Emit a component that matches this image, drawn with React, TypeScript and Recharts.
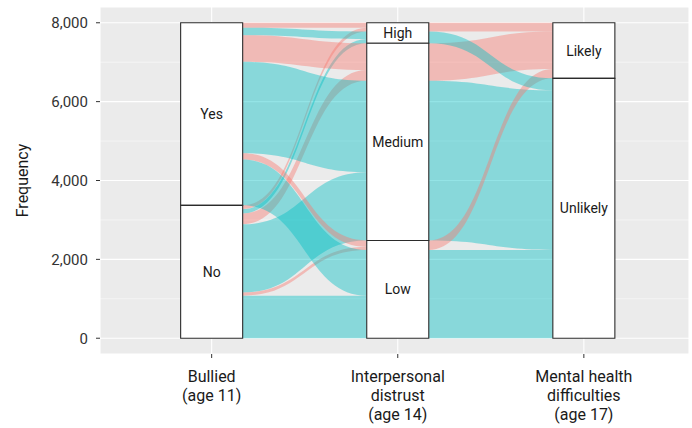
import React from "react";
import { ComposedChart, Area, XAxis, YAxis, CartesianGrid, ReferenceArea } from "recharts";

const axisNames = ["Bullied\n(age 11)", "Interpersonal\ndistrust\n(age 14)", "Mental health\ndifficulties\n(age 17)"];
const bulliedLevels = ["Yes", "No"];
const distrustLevels = ["High", "Medium", "Low"];
const mentalLevels = ["Likely", "Unlikely"];

// counts per distrust level (High, Medium, Low), each [Likely, Unlikely]
const bulliedYes = [[125, 190], [675, 2320], [160, 1160]];
const bulliedNo = [[95, 110], [275, 1730], [80, 1080]];

const yTicks = [0, 2000, 4000, 6000, 8000];
const yMinor = [1000, 3000, 5000, 7000];

const FONT = 'Roboto, "Noto Sans", sans-serif';
const FILLS = ["#F8766D", "#00BFC4"];
const W = 1 / 3; // stratum width in axis units

type Span = [number, number];
const counts = [bulliedYes, bulliedNo];
const total = counts.flat(2).reduce((a, b) => a + b, 0);
const dm = distrustLevels.map((_, di) => mentalLevels.map((_, mi) => counts[0][di][mi] + counts[1][di][mi]));

// stack lodes top-down in a given nesting order
function stackLodes(keys: string[], size: (k: string) => number) {
  const out: Record<string, Span> = {};
  let top = total;
  keys.forEach((k) => {
    const c = size(k);
    out[k] = [top - c, top];
    top -= c;
  });
  return out;
}

const idx = (n: number) => Array.from({ length: n }, (_, i) => i);
const bdm = (b: number, d: number, m: number) => `${b}${d}${m}`;

const left1 = stackLodes(
  idx(2).flatMap((b) => idx(3).flatMap((d) => idx(2).map((m) => bdm(b, d, m)))),
  (k) => counts[+k[0]][+k[1]][+k[2]]
);
const right1 = stackLodes(
  idx(3).flatMap((d) => idx(2).flatMap((m) => idx(2).map((b) => bdm(b, d, m)))),
  (k) => counts[+k[0]][+k[1]][+k[2]]
);
const left2 = stackLodes(
  idx(3).flatMap((d) => idx(2).map((m) => `${d}${m}`)),
  (k) => dm[+k[0]][+k[1]]
);
const right2 = stackLodes(
  idx(2).flatMap((m) => idx(3).map((d) => `${d}${m}`)),
  (k) => dm[+k[0]][+k[1]]
);

const rows: Record<string, any>[] = [{ x: 1 + W / 2 }, { x: 2 - W / 2 }, { x: 2 + W / 2 }, { x: 3 - W / 2 }];
const flows: { key: string; m: number }[] = [];
Object.keys(left1).forEach((k) => {
  const key = `a${k}`;
  rows[0][key] = left1[k];
  rows[1][key] = right1[k];
  flows.push({ key, m: +k[2] });
});
Object.keys(left2).forEach((k) => {
  const key = `b${k}`;
  rows[2][key] = left2[k];
  rows[3][key] = right2[k];
  flows.push({ key, m: +k[1] });
});

function strata(axis: number, names: string[], sizes: number[]) {
  let top = total;
  return names.map((name, i) => {
    const s = { axis, name, lo: top - sizes[i], hi: top };
    top -= sizes[i];
    return s;
  });
}
const boxes = [
  ...strata(1, bulliedLevels, counts.map((c) => c.flat().reduce((a, b) => a + b, 0))),
  ...strata(2, distrustLevels, dm.map((r) => r[0] + r[1])),
  ...strata(3, mentalLevels, idx(2).map((m) => dm.reduce((a, r) => a + r[m], 0))),
];

function AxisTick({ x, y, payload }: any) {
  const lines = axisNames[payload.value - 1].split("\n");
  return (
    <g>
      {lines.map((l, i) => (
        <text key={i} x={x} y={y + 22 + i * 19} textAnchor="middle" fill="#1a1a1a" fontSize={16} fontFamily={FONT}>
          {l}
        </text>
      ))}
    </g>
  );
}

export default function App() {
  return (
    <div>
      <style>{"body{margin:0}"}</style>
      <ComposedChart width={692} height={428} data={rows} margin={{ top: 7, right: 3, bottom: 0, left: 0 }}>
        <CartesianGrid fill="#EBEBEB" fillOpacity={1} stroke="#ffffff" strokeWidth={1.1} />
        <CartesianGrid horizontalValues={yMinor} vertical={false} stroke="#ffffff" strokeWidth={0.5} />
        <XAxis
          type="number"
          dataKey="x"
          domain={[0.4, 3.565]}
          ticks={[1, 2, 3]}
          interval={0}
          allowDataOverflow
          axisLine={false}
          tickSize={4}
          tickLine={{ stroke: "#333" }}
          height={74}
          tick={<AxisTick />}
        />
        <YAxis
          type="number"
          domain={[-400, 8400]}
          ticks={yTicks}
          allowDataOverflow
          width={100}
          axisLine={false}
          tickSize={4}
          tickMargin={8}
          tickLine={{ stroke: "#333" }}
          tick={{ fill: "#333", fontSize: 15, fontFamily: FONT }}
          tickFormatter={(v: number) => v.toLocaleString("en-US")}
          label={{ value: "Frequency", angle: -90, position: "center", dx: -28, fill: "#1a1a1a", fontSize: 16, fontFamily: FONT }}
        />
        {flows.map((f) => (
          <Area
            key={f.key}
            dataKey={f.key}
            type="bumpX"
            fill={FILLS[f.m]}
            fillOpacity={0.42}
            stroke="none"
            dot={false}
            activeDot={false}
            isAnimationActive={false}
          />
        ))}
        {boxes.map((s) => (
          <ReferenceArea
            key={`${s.axis}-${s.name}`}
            x1={s.axis - W / 2}
            x2={s.axis + W / 2}
            y1={s.lo}
            y2={s.hi}
            fill="#ffffff"
            fillOpacity={1}
            stroke="#2b2b2b"
            strokeWidth={1.1}
            ifOverflow="visible"
            zIndex={350}
            label={{ value: s.name, position: "center", fill: "#1a1a1a", fontSize: 14, fontFamily: FONT }}
          />
        ))}
      </ComposedChart>
    </div>
  );
}
